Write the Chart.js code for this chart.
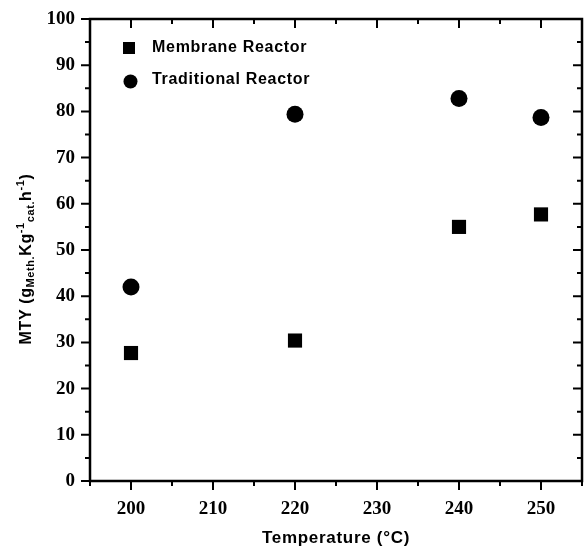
<!DOCTYPE html>
<html>
<head>
<meta charset="utf-8">
<script src="https://cdn.jsdelivr.net/npm/chart.js@4.4.1/dist/chart.umd.min.js"></script>
<style>
  html, body { margin: 0; padding: 0; background: #fff; }
  #wrap { width: 584px; height: 548px; }
</style>
</head>
<body>
<div id="wrap"><canvas id="mtyChart" width="584" height="548"></canvas></div>
<script>
// MTY vs temperature - membrane vs traditional reactor
const temperatures = [200, 220, 240, 250];
const membraneMTY = [27.7, 30.4, 55.0, 57.7];
const traditionalMTY = [42.0, 79.4, 82.8, 78.7];
const seriesNames = ['Membrane Reactor', 'Traditional Reactor'];
const xTitle = 'Temperature (°C)';
const xRange = [195, 255];
const yRange = [0, 100];

const toPoints = (xs, ys) => xs.map((x, i) => ({ x: x, y: ys[i] }));
const sansBold = px => 'bold ' + px + 'px "Liberation Sans", Arial, sans-serif';

// frame with outside ticks on left/bottom and inside ticks on top/right
const framePlugin = {
    id: 'frame',
    afterDraw(chart) {
        const { ctx, chartArea: a, scales } = chart;
        ctx.save();
        ctx.strokeStyle = '#000';
        ctx.lineWidth = 2.5;
        ctx.strokeRect(a.left, a.top, a.right - a.left, a.bottom - a.top);
        ctx.lineWidth = 2;
        ctx.beginPath();
        scales.x.ticks.forEach(t => {
            const px = scales.x.getPixelForValue(t.value);
            const len = t.value % 10 === 0 ? 9 : 5;
            ctx.moveTo(px, a.bottom); ctx.lineTo(px, a.bottom + len);
            ctx.moveTo(px, a.top); ctx.lineTo(px, a.top + len);
        });
        scales.y.ticks.forEach(t => {
            const py = scales.y.getPixelForValue(t.value);
            const len = t.value % 10 === 0 ? 9 : 5;
            ctx.moveTo(a.left, py); ctx.lineTo(a.left - len, py);
            ctx.moveTo(a.right, py); ctx.lineTo(a.right - len, py);
        });
        ctx.stroke();
        ctx.restore();
    }
};

// axis titles (y one has sub/superscripts)
const titlesPlugin = {
    id: 'axisTitles',
    afterDraw(chart) {
        const ctx = chart.ctx;
        const a = chart.chartArea;
        ctx.save();
        ctx.fillStyle = '#000';
        ctx.letterSpacing = '0.7px';
        ctx.font = sansBold(17);
        ctx.textAlign = 'center';
        ctx.textBaseline = 'alphabetic';
        ctx.fillText(xTitle, (a.left + a.right) / 2, 543);

        const parts = [
            ['MTY (g', 0], ['Meth.', 1], ['Kg', 0], ['-1', -1],
            ['cat.', 1], ['h', 0], ['-1', -1], [')', 0]
        ];
        ctx.textAlign = 'left';
        ctx.letterSpacing = '0.6px';
        let total = 0;
        parts.forEach(p => { ctx.font = p[1] ? sansBold(11) : sansBold(16); total += ctx.measureText(p[0]).width; });
        ctx.translate(25, 259);
        ctx.rotate(-Math.PI / 2);
        let x = -total / 2;
        parts.forEach(p => {
            ctx.font = p[1] ? sansBold(11) : sansBold(16);
            const dy = p[1] === 1 ? 3 : (p[1] === -1 ? -7 : 0);
            ctx.fillText(p[0], x, 6 + dy);
            x += ctx.measureText(p[0]).width;
        });
        ctx.restore();
    }
};

// legend inside the plot, top-left
const legendPlugin = {
    id: 'insideLegend',
    afterDraw(chart) {
        const ctx = chart.ctx;
        ctx.save();
        ctx.fillStyle = '#000';
        ctx.font = sansBold(16);
        ctx.letterSpacing = '0.7px';
        ctx.textBaseline = 'middle';
        ctx.fillRect(123, 42, 12, 12);
        ctx.fillText(seriesNames[0], 152, 48);
        ctx.beginPath();
        ctx.arc(130.5, 81.5, 7, 0, Math.PI * 2);
        ctx.fill();
        ctx.fillText(seriesNames[1], 152, 80);
        ctx.restore();
    }
};

const tickFont = { family: '"Liberation Serif", "Times New Roman", serif', size: 19, weight: 'bold' };
const hiddenGrid = len => ({ display: true, drawOnChartArea: false, drawTicks: true, tickLength: len, color: 'rgba(0,0,0,0)' });

new Chart(document.getElementById('mtyChart'), {
    type: 'scatter',
    data: {
        datasets: [{
            label: seriesNames[0],
            data: toPoints(temperatures, membraneMTY),
            pointStyle: 'rect',
            pointRadius: 10,
            backgroundColor: '#000',
            borderWidth: 0
        }, {
            label: seriesNames[1],
            data: toPoints(temperatures, traditionalMTY),
            pointStyle: 'circle',
            pointRadius: 8.5,
            backgroundColor: '#000',
            borderWidth: 0
        }]
    },
    options: {
        responsive: false,
        animation: false,
        layout: { autoPadding: false, padding: { top: 19, right: 2, left: 0, bottom: 0 } },
        plugins: { legend: { display: false }, tooltip: { enabled: false } },
        scales: {
            x: {
                type: 'linear',
                min: xRange[0],
                max: xRange[1],
                grid: hiddenGrid(15),
                border: { display: false },
                ticks: {
                    stepSize: 5,
                    padding: 2,
                    maxRotation: 0,
                    autoSkip: false,
                    color: '#000',
                    font: tickFont,
                    callback: v => (v % 10 === 0 ? v : '')
                },
                afterFit: s => {
                    s.height = 67;
                    s.paddingLeft = 0;
                    s.paddingRight = 0;
                }
            },
            y: {
                min: yRange[0],
                max: yRange[1],
                grid: hiddenGrid(13),
                border: { display: false },
                ticks: {
                    stepSize: 5,
                    padding: 2,
                    autoSkip: false,
                    color: '#000',
                    font: tickFont,
                    callback: v => (v % 10 === 0 ? v : '')
                },
                afterFit: s => {
                    s.width = 90;
                    s.paddingTop = 0;
                    s.paddingBottom = 0;
                }
            }
        }
    },
    plugins: [framePlugin, titlesPlugin, legendPlugin]
});
</script>
</body>
</html>
